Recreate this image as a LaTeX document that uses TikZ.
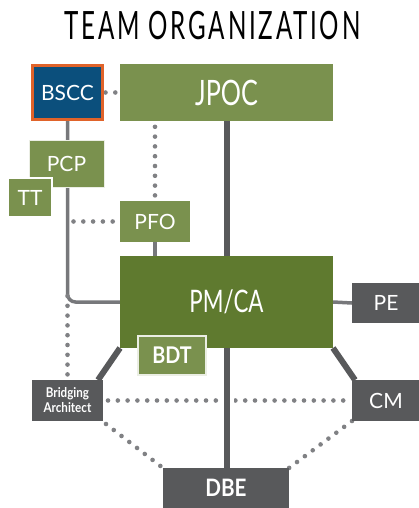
\documentclass[tikz,border=0pt]{standalone}
\usepackage{fontspec}
\setmainfont{Lato}
\newfontfamily\condfont[FakeStretch=0.72]{Lato}
\newfontfamily\titlefont[FakeStretch=0.62,LetterSpace=7]{Lato}
\newfontfamily\semifont[FakeStretch=0.86]{Lato}
\usetikzlibrary{backgrounds}

\definecolor{lightolive}{HTML}{7A914E}
\definecolor{darkolive}{HTML}{5F7A2F}
\definecolor{slate}{HTML}{58595B}
\definecolor{navy}{HTML}{0B4F7C}
\definecolor{rust}{HTML}{E0632A}
\definecolor{wire}{HTML}{77787B}
\definecolor{dotgray}{HTML}{808184}

\tikzset{
  box/.style={inner sep=0,outer sep=0,text=white,font=\fontsize{21}{21}\selectfont},
  wirethin/.style={wire,line width=3.5pt},
  wirethick/.style={slate,line width=6pt},
  dots/.style={dotgray,line width=4.6pt,line cap=round,dash pattern=on 0pt off 9.8pt}
}

\begin{document}
\begin{tikzpicture}[x=1pt,y=-1pt]

\useasboundingbox (0,0) rectangle (419,508);

\node [font=\titlefont\fontsize{39}{39}\selectfont] (title) at (212.5,26) {TEAM ORGANIZATION};

\node [box,fill=navy,draw=rust,line width=3.5pt,minimum width=70,minimum height=54] (bscc) at (67.5,92.5) {BSCC};
\node [box,fill=lightolive,minimum width=213,minimum height=57,font=\condfont\fontsize{35}{35}\selectfont] (jpoc) at (226.5,92.5) {JPOC};
\node [box,fill=lightolive,draw=white!85!lightolive,line width=1pt,minimum width=75,minimum height=47] (pcp) at (66.5,163.5) {PCP};
\node [box,fill=lightolive,draw=white,line width=1.5pt,minimum width=44,minimum height=39] (tt) at (30,197.5) {TT};
\node [box,fill=lightolive,minimum width=70,minimum height=41] (pfo) at (155,221.5) {PFO};
\node [box,fill=darkolive,minimum width=213,minimum height=92,font=\condfont\fontsize{31}{31}\selectfont] (pmca) at (226.5,302) {PM/CA};
\node [box,fill=lightolive,draw=white!85!lightolive,line width=1.5pt,minimum width=68,minimum height=39,font=\semifont\bfseries\fontsize{23}{23}\selectfont] (bdt) at (172,355.5) {BDT};
\node [box,fill=slate,minimum width=68,minimum height=40] (pe) at (386,303) {PE};
\node [box,fill=slate,minimum width=68,minimum height=41] (cm) at (386,400.5) {CM};
\node [box,fill=slate,minimum width=71,minimum height=41,align=center,font=\semifont\bfseries\fontsize{13.5}{15}\selectfont] (ba) at (67.5,400.5) {Bridging\\Architect};
\node [box,fill=slate,minimum width=126,minimum height=40,font=\semifont\bfseries\fontsize{24}{24}\selectfont] (dbe) at (226,488) {DBE};

\begin{scope}[on background layer]

\fill [white] (0,0) rectangle (419,508);

\draw [wirethin,rounded corners=8] (bscc.south) |- (pmca.west);
\draw [wirethin] (pfo.south) -- (pfo.south |- pmca.north);
\draw [wirethin] (pmca.east) -- (pe.west);

\draw [dots] ([xshift=3]bscc.east) -- (jpoc.west);
\draw [dots] ([yshift=4]jpoc.south -| pfo.north) -- ([yshift=-4]pfo.north);
\draw [dots] ([xshift=6]pfo.west -| bscc.south) -- (pfo.west);
\draw [dots] ([yshift=6]bscc.south |- pmca.west) -- ([yshift=-6]ba.north);
\draw [dots] ([xshift=5]ba.east) -- ([xshift=-2]cm.west);
\draw [dots] ([shift={(3,3)}]ba.south east) -- (dbe.north west);
\draw [dots] (cm.south west) -- (dbe.north east);

\draw [white,line width=14pt] (pmca.south -| jpoc.south) -- (dbe.north -| jpoc.south);
\draw [wirethick] (jpoc.south) -- (dbe.north -| jpoc.south);
\draw [wirethick] (pmca.south west) -- ([xshift=-5]ba.north east);
\draw [wirethick] (pmca.south east) -- ([xshift=3]cm.north west);

\end{scope}

\end{tikzpicture}
\end{document}
